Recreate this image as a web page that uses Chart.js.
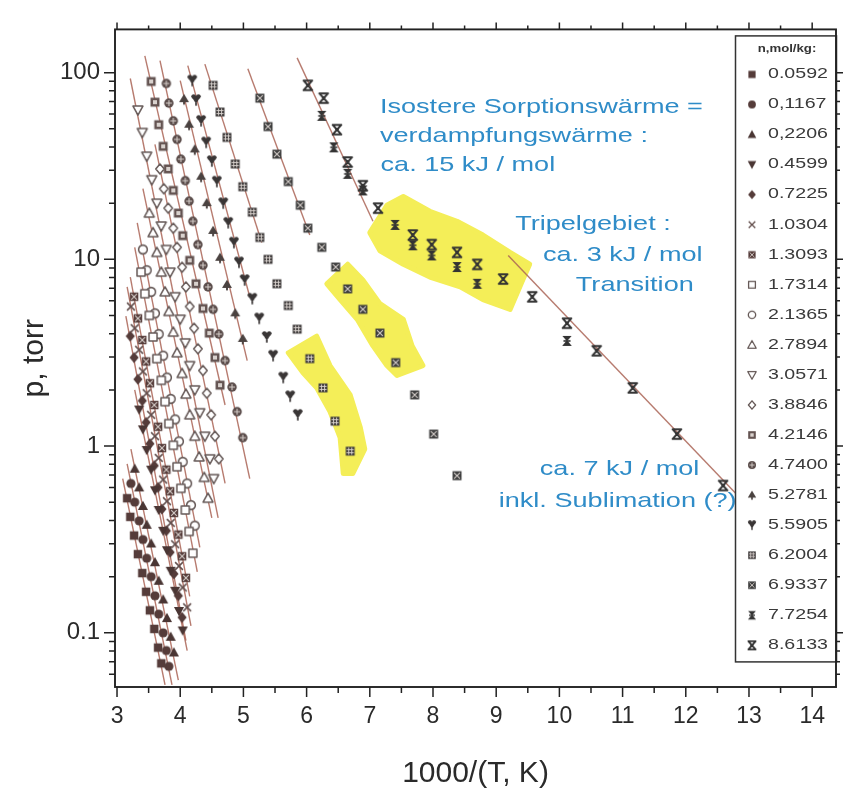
<!DOCTYPE html>
<html>
<head>
<meta charset="utf-8">
<script src="https://cdn.jsdelivr.net/npm/chart.js@4.4.1/dist/chart.umd.min.js"></script>
<style>
  html, body { margin: 0; background: #fff; }
</style>
</head>
<body>
<canvas id="chart" width="843" height="799"></canvas>
<script>
// loadings n, mol/kg (legend text as printed)
const nLabels = ['0.0592','0,1167','0,2206','0.4599','0.7225','1.0304','1.3093','1.7314','2.1365','2.7894',
                 '3.0571','3.8846','4.2146','4.7400','5.2781','5.5905','6.2004','6.9337','7.7254','8.6133']

const xTicks = [3,4,5,6,7,8,9,10,11,12,13,14]
const yTicks = [0.1,1,10,100]

// isosteres: x = 1000/T, p = torr
const x0592 = [3.16,3.21,3.27,3.33,3.40,3.46,3.52,3.59,3.65,3.70]
const p0592 = [0.526,0.418,0.332,0.264,0.209,0.166,0.132,0.105,0.0834,0.0687]
const x1167 = [3.22,3.28,3.35,3.41,3.47,3.54,3.60,3.66,3.73,3.78,3.82]
const p1167 = [0.631,0.501,0.398,0.316,0.251,0.2,0.158,0.126,0.1,0.0804,0.0662]
const x2206 = [3.28,3.35,3.41,3.47,3.54,3.60,3.66,3.73,3.79,3.85,3.90]
const p2206 = [0.757,0.601,0.478,0.379,0.301,0.239,0.19,0.151,0.12,0.0953,0.0785]
const x4599 = [3.35,3.41,3.47,3.54,3.60,3.66,3.73,3.79,3.85,3.92,3.98,4.04]
const p4599 = [1.57,1.23,0.953,0.748,0.58,0.455,0.352,0.277,0.215,0.168,0.131,0.103]
const x7225 = [3.21,3.27,3.33,3.40,3.46,3.52,3.59,3.65,3.71,3.78,3.84,3.90,3.97,4.03]
const p7225 = [3.88,2.98,2.28,1.75,1.34,1.03,0.786,0.601,0.46,0.352,0.27,0.207,0.158,0.121]
const x10304 = [3.22,3.28,3.35,3.41,3.47,3.54,3.60,3.66,3.73,3.79,3.85,3.92,3.98,4.04,4.11]
const p10304 = [5.59,4.28,3.28,2.51,1.92,1.47,1.13,0.865,0.662,0.507,0.388,0.298,0.228,0.175,0.137]
const x13093 = [3.27,3.33,3.40,3.46,3.52,3.59,3.65,3.71,3.78,3.84,3.90,3.97,4.03,4.09]
const p13093 = [6.31,4.83,3.7,2.84,2.17,1.66,1.27,0.976,0.748,0.573,0.439,0.336,0.257,0.197]
const x17314 = [3.38,3.44,3.51,3.57,3.63,3.70,3.76,3.82,3.89,3.95,4.01,4.08,4.14,4.20]
const p17314 = [8.55,6.55,5.01,3.84,2.94,2.25,1.73,1.32,1.01,0.775,0.594,0.455,0.349,0.267]
const x21365 = [3.41,3.47,3.54,3.60,3.66,3.73,3.79,3.85,3.92,3.98,4.04,4.11,4.17,4.23]
const p21365 = [11.3,8.75,6.7,5.14,3.98,3.05,2.33,1.79,1.39,1.06,0.824,0.631,0.483,0.375]
const x27894 = [3.51,3.57,3.63,3.70,3.76,3.82,3.89,3.95,4.03,4.09,4.15,4.23,4.30,4.38,4.44]
const p27894 = [17.7,13.9,10.9,8.55,6.7,5.26,4.08,3.16,2.45,1.9,1.47,1.13,0.875,0.68,0.526]
const x30571 = [3.33,3.40,3.47,3.55,3.63,3.70,3.78,3.84,3.92,4.00,4.08,4.15,4.23,4.31,4.39,4.47,4.53]
const p30571 = [63.1,47.8,35.7,26.7,20.0,15.1,11.3,8.55,6.31,4.78,3.57,2.7,2.0,1.51,1.13,0.855,0.67]
const x38846 = [3.68,3.74,3.81,3.89,3.95,4.03,4.09,4.15,4.22,4.28,4.36,4.42,4.49,4.55,4.61]
const p38846 = [30.5,23.9,18.8,14.7,11.6,9.08,7.12,5.59,4.28,3.32,2.54,1.92,1.47,1.13,0.855]
const x42146 = [3.54,3.60,3.66,3.73,3.81,3.89,3.97,4.04,4.15,4.25,4.36,4.46,4.55,4.63]
const p42146 = [89.7,69.5,52.6,40.3,30.5,23.4,17.7,13.4,9.88,7.4,5.46,4.03,2.98,2.12]
const x47400 = [3.78,3.82,3.89,3.95,4.01,4.08,4.14,4.20,4.28,4.36,4.44,4.52,4.61,4.71,4.82,4.90,4.99]
const p47400 = [87.5,68.7,55.2,43.9,34.4,26.4,20.5,16.0,12.0,9.3,7.12,5.4,3.98,2.87,2.07,1.53,1.11]
const x52781 = [4.06,4.14,4.23,4.33,4.42,4.52,4.63,4.74,4.87,4.99]
const p52781 = [72.1,52.6,38.8,27.7,20.0,14.2,10.2,7.3,5.14,3.75]
const x55905 = [4.19,4.25,4.33,4.41,4.50,4.58,4.68,4.76,4.85,4.93,5.02,5.14,5.25,5.37,5.47,5.63,5.74,5.86]
const p55905 = [90.7,71.3,55.2,42.3,33.6,26.1,20.0,15.7,12.3,9.64,7.75,6.16,4.83,3.84,3.05,2.33,1.85,1.47]
const x62004 = [4.52,4.63,4.74,4.87,4.99,5.14,5.26,5.39,5.53,5.71,5.85,6.05,6.26,6.45,6.69]
const p62004 = [85.5,61.5,45.0,32.4,24.5,17.9,13.1,10.0,7.4,5.66,4.23,2.94,2.05,1.36,0.94]
const x69337 = [5.26,5.39,5.53,5.71,5.90,6.02,6.24,6.46,6.65,6.89,7.16,7.41,7.71,8.01,8.38]
const p69337 = [73.0,51.4,36.6,26.1,19.5,14.7,11.6,9.1,6.95,5.4,4.03,2.8,1.88,1.16,0.695]
const x77254 = [6.24,6.43,6.65,6.89,7.40,7.68,7.98,8.38,8.70,10.12]
const p77254 = [58.7,39.8,28.7,23.4,15.3,11.9,10.5,9.1,7.4,3.66]
const x86133 = [6.02,6.27,6.48,6.65,6.89,7.13,7.68,7.98,8.38,8.70,9.11,9.57,10.12,10.59,11.16,11.86,12.59]
const p86133 = [85.5,73.0,49.5,33.2,24.8,18.8,13.5,12.0,10.9,9.4,7.85,6.3,4.55,3.24,2.05,1.16,0.615]

// fitted straight lines (end points), one per isostere, plus the low-T branch of 8.6133
const fitX = [[3.09,3.76],[3.16,3.87],[3.22,3.97],[3.28,4.11],[3.14,4.09],[3.16,4.17],[3.21,4.15],[3.28,4.27],
              [3.32,4.31],[3.41,4.50],[3.21,4.60],[3.60,4.71],[3.44,4.71],[3.68,5.10],[4.00,5.06],[4.12,5.10],
              [4.39,5.29],[5.07,6.05],[5.85,7.05],[9.19,12.94]]
const fitP = [[0.67,0.0526],[0.803,0.0526],[0.964,0.0559],[2.0,0.0804],[4.96,0.0908],[7.12,0.109],[8.03,0.157],[11.6,0.212],
              [15.7,0.287],[23.9,0.413],[93,0.413],[41.3,0.631],[123,1.66],[116,0.67],[90.7,2.87],[109,6.31],
              [111,12.3],[105,13.5],[120,16.0],[10.5,0.495]]

// yellow marker-pen areas
const hlX1 = [7.00,7.27,7.53,7.95,8.38,8.79,9.22,9.53,9.42,9.22,8.79,8.43,7.95,7.53,7.16]
const hlP1 = [13.9,19.5,21.7,18.1,16.0,13.5,10.9,9.42,7.75,5.39,6.09,7.12,8.04,9.42,11.1]
const hlX2 = [6.32,6.65,6.89,7.16,7.53,7.67,7.84,7.43,7.27,7.05,6.80,6.53]
const hlP2 = [7.39,9.42,7.75,5.79,4.78,3.44,2.70,2.39,2.70,3.44,4.78,6.09]
const hlX3 = [5.71,6.16,6.37,6.69,6.85,6.92,6.73,6.58,6.53,6.37,6.16,5.94]
const hlP3 = [3.16,3.88,2.70,1.88,1.26,0.964,0.713,0.713,1.11,1.53,2.05,2.48]

// blue notes
const noteText = ['Isostere Sorptionswärme =','verdampfungswärme :','ca. 15 kJ / mol','Tripelgebiet :',
                  'ca. 3 kJ / mol','Transition','ca. 7 kJ / mol','inkl. Sublimation (?)']
const noteX = [7.16,7.16,7.17,9.30,9.74,10.26,9.69,9.04]
const noteP = [65.5,45.5,32.0,15.5,10.5,7.3,0.748,0.507]

const family = '"Liberation Sans", Arial, sans-serif'
const lineColor = 'rgba(170,100,86,0.85)'
const axisColor = '#222'
const textColor = '#2a2a2a'
const blue = '#2f8cc8'
const yellow = '#f4ee58'

const series = [[x0592,p0592],[x1167,p1167],[x2206,p2206],[x4599,p4599],[x7225,p7225],[x10304,p10304],
                [x13093,p13093],[x17314,p17314],[x21365,p21365],[x27894,p27894],[x30571,p30571],[x38846,p38846],
                [x42146,p42146],[x47400,p47400],[x52781,p52781],[x55905,p55905],[x62004,p62004],[x69337,p69337],
                [x77254,p77254],[x86133,p86133]]

const kinds = ['sqF','ciF','trF','tdF','diF','x','sqX','sqO','ciO','trO','tdO','diO','sqP','ciP','club','spade','sqG','sqH','star','hour']
const kindColor = ['#553c3a','#553c3a','#4a3634','#4a3634','#553c3a','#634f4d','#553c3a','#665a58','#665a58','#665a58',
                   '#665a58','#665a58','#645452','#5a4c4a','#4a4240','#3a3636','#444040','#3e3e3e','#333','#333']

function marker(kind, col, sc){
    const c = document.createElement('canvas')
    c.width = 14
    c.height = 14
    const g = c.getContext('2d')
    g.translate(7, 7)
    g.scale(sc, sc)
    g.fillStyle = col
    g.strokeStyle = col
    g.lineWidth = 1.3
    g.lineJoin = 'round'
    const light = '#d9d2ce'
    const path = pts => {
        g.beginPath()
        pts.forEach(([a, b], i) => i ? g.lineTo(a, b) : g.moveTo(a, b))
        g.closePath()
    }
    const open = () => { g.fillStyle = '#fff'; g.fill(); g.stroke() }
    switch(kind){
        case 'sqF': g.fillRect(-3.6,-3.6,7.2,7.2); break
        case 'ciF': g.beginPath(); g.arc(0,0,3.9,0,7); g.fill(); break
        case 'trF': path([[0,-4.4],[4.3,3.4],[-4.3,3.4]]); g.fill(); break
        case 'tdF': path([[0,4.4],[4.3,-3.4],[-4.3,-3.4]]); g.fill(); break
        case 'diF': path([[0,-4.6],[3.9,0],[0,4.6],[-3.9,0]]); g.fill(); break
        case 'x':
            g.beginPath(); g.moveTo(-3.3,-3.3); g.lineTo(3.3,3.3); g.moveTo(3.3,-3.3); g.lineTo(-3.3,3.3); g.stroke(); break
        case 'sqX':
            g.fillRect(-3.6,-3.6,7.2,7.2)
            g.strokeStyle = light; g.lineWidth = 0.9
            g.beginPath(); g.moveTo(-2.4,-2.4); g.lineTo(2.4,2.4); g.moveTo(2.4,-2.4); g.lineTo(-2.4,2.4); g.stroke(); break
        case 'sqO': path([[-3.4,-3.4],[3.4,-3.4],[3.4,3.4],[-3.4,3.4]]); open(); break
        case 'ciO': g.beginPath(); g.arc(0,0,3.7,0,7); open(); break
        case 'trO': path([[0,-4.3],[4.2,3.3],[-4.2,3.3]]); open(); break
        case 'tdO': path([[0,4.3],[4.2,-3.3],[-4.2,-3.3]]); open(); break
        case 'diO': path([[0,-4.2],[3.6,0],[0,4.2],[-3.6,0]]); open(); break
        case 'sqP':
            g.fillRect(-3.8,-3.8,7.6,7.6)
            g.fillStyle = light; g.fillRect(-1.7,-1.7,3.4,3.4); break
        case 'ciP':
            g.beginPath(); g.arc(0,0,4,0,7); g.fill()
            g.strokeStyle = light; g.lineWidth = 0.9
            g.beginPath(); g.moveTo(-2.6,0); g.lineTo(2.6,0); g.moveTo(0,-2.6); g.lineTo(0,2.6); g.stroke(); break
        case 'club':
            path([[0,-4.4],[4.2,2.6],[-4.2,2.6]]); g.fill()
            g.fillRect(-0.8,2,1.6,2.6); break
        case 'spade':
            path([[-4.3,-3.6],[4.3,-3.6],[0,3.2]]); g.fill()
            g.beginPath(); g.arc(-2,-3,1.9,0,7); g.arc(2,-3,1.9,0,7); g.fill()
            g.fillRect(-0.7,2.4,1.4,2.4); break
        case 'sqG':
            g.fillRect(-3.8,-3.8,7.6,7.6)
            g.strokeStyle = light; g.lineWidth = 0.8
            g.beginPath(); g.moveTo(-1.3,-3); g.lineTo(-1.3,3); g.moveTo(1.3,-3); g.lineTo(1.3,3)
            g.moveTo(-3,-1.3); g.lineTo(3,-1.3); g.moveTo(-3,1.3); g.lineTo(3,1.3); g.stroke(); break
        case 'sqH':
            g.fillRect(-3.8,-3.8,7.6,7.6)
            g.strokeStyle = light; g.lineWidth = 0.9
            g.beginPath(); g.moveTo(-2.5,-2.5); g.lineTo(2.5,2.5); g.moveTo(2.5,-2.5); g.lineTo(-2.5,2.5); g.stroke(); break
        case 'star':
            path([[-3.9,-4.3],[3.9,-4.3],[0,0.2]]); g.fill()
            path([[-4.1,4.3],[4.1,4.3],[0,-0.6]]); g.fill()
            g.fillRect(-3,-0.7,6,1.4); break
        case 'hour':
            g.lineWidth = 1.7
            g.beginPath(); g.moveTo(-3.7,-4.1); g.lineTo(3.7,-4.1); g.lineTo(-3.7,4.1); g.lineTo(3.7,4.1); g.closePath(); g.stroke()
            g.fillRect(-1.5,-1.5,3,3); break
    }
    return c
}

const markers = kinds.map((k, i) => marker(k, kindColor[i], 1.18))
const legendMarks = kinds.map((k, i) => marker(k, kindColor[i], 1.0))

const datasets = []
series.forEach(([xs, ps], i) => {
    datasets.push({
        label: nLabels[i],
        data: xs.map((v, j) => ({ x: v, y: ps[j] })),
        pointStyle: markers[i],
        pointRadius: 5,
        order: 1
    })
})
fitX.forEach((xs, i) => {
    datasets.push({
        label: 'fit' + i,
        data: xs.map((v, j) => ({ x: v, y: fitP[i][j] })),
        showLine: true,
        borderColor: lineColor,
        borderWidth: 1.4,
        pointRadius: 0,
        order: 2
    })
})

function stretchText(ctx, txt, x, y, sx){
    ctx.save()
    ctx.translate(x, y)
    ctx.scale(sx, 1)
    ctx.fillText(txt, 0, 0)
    ctx.restore()
}

const decor = {
    id: 'decor',
    beforeDatasetsDraw(chart){
        const { ctx, scales: { x, y } } = chart
        ctx.save()
        ctx.fillStyle = yellow
        ctx.strokeStyle = yellow
        ctx.lineWidth = 5
        ctx.lineJoin = 'round';
        [[hlX1, hlP1], [hlX2, hlP2], [hlX3, hlP3]].forEach(([hx, hp]) => {
            ctx.beginPath()
            hx.forEach((v, i) => {
                const px = x.getPixelForValue(v), py = y.getPixelForValue(hp[i])
                i ? ctx.lineTo(px, py) : ctx.moveTo(px, py)
            })
            ctx.closePath()
            ctx.fill()
            ctx.stroke()
        })
        ctx.restore()
    },
    afterDatasetsDraw(chart){
        const { ctx, chartArea: a, scales: { x, y } } = chart
        ctx.save()

        // blue notes
        ctx.fillStyle = blue
        ctx.font = '21px ' + family
        ctx.textBaseline = 'middle'
        noteText.forEach((t, i) => stretchText(ctx, t, x.getPixelForValue(noteX[i]), y.getPixelForValue(noteP[i]), 1.29))

        // legend box
        const lx = a.right - 101, ly = a.top + 6, lw = 101, lh = 626
        ctx.fillStyle = '#fff'
        ctx.fillRect(lx, ly, lw, lh)
        ctx.save()
        ctx.beginPath()
        ctx.rect(lx, ly, lw - 1, lh)
        ctx.clip()
        ctx.fillStyle = '#333'
        ctx.font = 'bold 11px ' + family
        ctx.textAlign = 'center'
        stretchText(ctx, 'n,mol/kg:', lx + 52, ly + 14, 1.2)
        ctx.textAlign = 'left'
        ctx.font = '14px ' + family
        ctx.fillStyle = '#3a3a3a'
        nLabels.forEach((t, i) => {
            const ry = ly + 39 + i * 30.05
            ctx.drawImage(legendMarks[i], lx + 10, ry - 7)
            stretchText(ctx, t, lx + 33, ry, 1.4)
        })
        ctx.restore()
        ctx.strokeStyle = '#333'
        ctx.lineWidth = 1.5
        ctx.strokeRect(lx + 0.5, ly + 0.5, lw, lh)

        // frame and tick marks
        ctx.strokeStyle = axisColor
        ctx.lineWidth = 1.9
        ctx.strokeRect(a.left, a.top, a.right - a.left, a.bottom - a.top)
        ctx.lineWidth = 1.5
        ctx.beginPath()
        xTicks.forEach(v => {
            const px = x.getPixelForValue(v)
            ctx.moveTo(px, a.bottom); ctx.lineTo(px, a.bottom + 10)
            ctx.moveTo(px, a.top); ctx.lineTo(px, a.top - 7)
            const hx = x.getPixelForValue(v + 0.5)
            if (hx < a.right) {
                ctx.moveTo(hx, a.bottom); ctx.lineTo(hx, a.bottom + 6)
                ctx.moveTo(hx, a.top); ctx.lineTo(hx, a.top - 4)
            }
        })
        const ymin = y.min, ymax = y.max
        ;[0.01, 0.1, 1, 10, 100].forEach(d => {
            for (let k = 1; k <= 9; k++) {
                const v = d * k
                if (v < ymin || v > ymax) continue
                const py = y.getPixelForValue(v)
                const len = k === 1 ? 11 : 6
                ctx.moveTo(a.left, py); ctx.lineTo(a.left - len, py)
                ctx.moveTo(a.right, py); ctx.lineTo(a.right + (k === 1 ? 7 : 4), py)
            }
        })
        ctx.stroke()
        ctx.restore()
    }
}

new Chart(document.getElementById('chart'), {
    type: 'scatter',
    data: { datasets },
    options: {
        responsive: false,
        animation: false,
        devicePixelRatio: 1,
        layout: { padding: { top: 18, right: 7, left: 0, bottom: 0 } },
        plugins: { legend: { display: false }, tooltip: { enabled: false } },
        scales: {
            x: {
                type: 'linear',
                min: 2.968,
                max: 14.377,
                grid: { display: false, drawTicks: false },
                border: { display: false },
                afterBuildTicks: s => { s.ticks = xTicks.map(v => ({ value: v })) },
                afterFit: s => { s.height = 112 },
                ticks: { autoSkip: false, maxRotation: 0, padding: 16, color: textColor,
                         font: { family, size: 23 }, callback: v => String(v) },
                title: { display: true, text: '1000/(T, K)', color: textColor,
                         font: { family, size: 30 }, padding: { top: 0, bottom: 7 } }
            },
            y: {
                type: 'logarithmic',
                min: 0.0513,
                max: 170.4,
                grid: { display: false, drawTicks: false },
                border: { display: false },
                afterBuildTicks: s => { s.ticks = yTicks.map(v => ({ value: v })) },
                afterFit: s => { s.width = 115 },
                ticks: { autoSkip: false, padding: 15, color: textColor,
                         font: { family, size: 24 }, callback: v => String(v) },
                title: { display: true, text: 'p, torr', color: textColor,
                         font: { family, size: 30 }, padding: { top: 17, bottom: 0 } }
            }
        }
    },
    plugins: [decor]
})
</script>
</body>
</html>
